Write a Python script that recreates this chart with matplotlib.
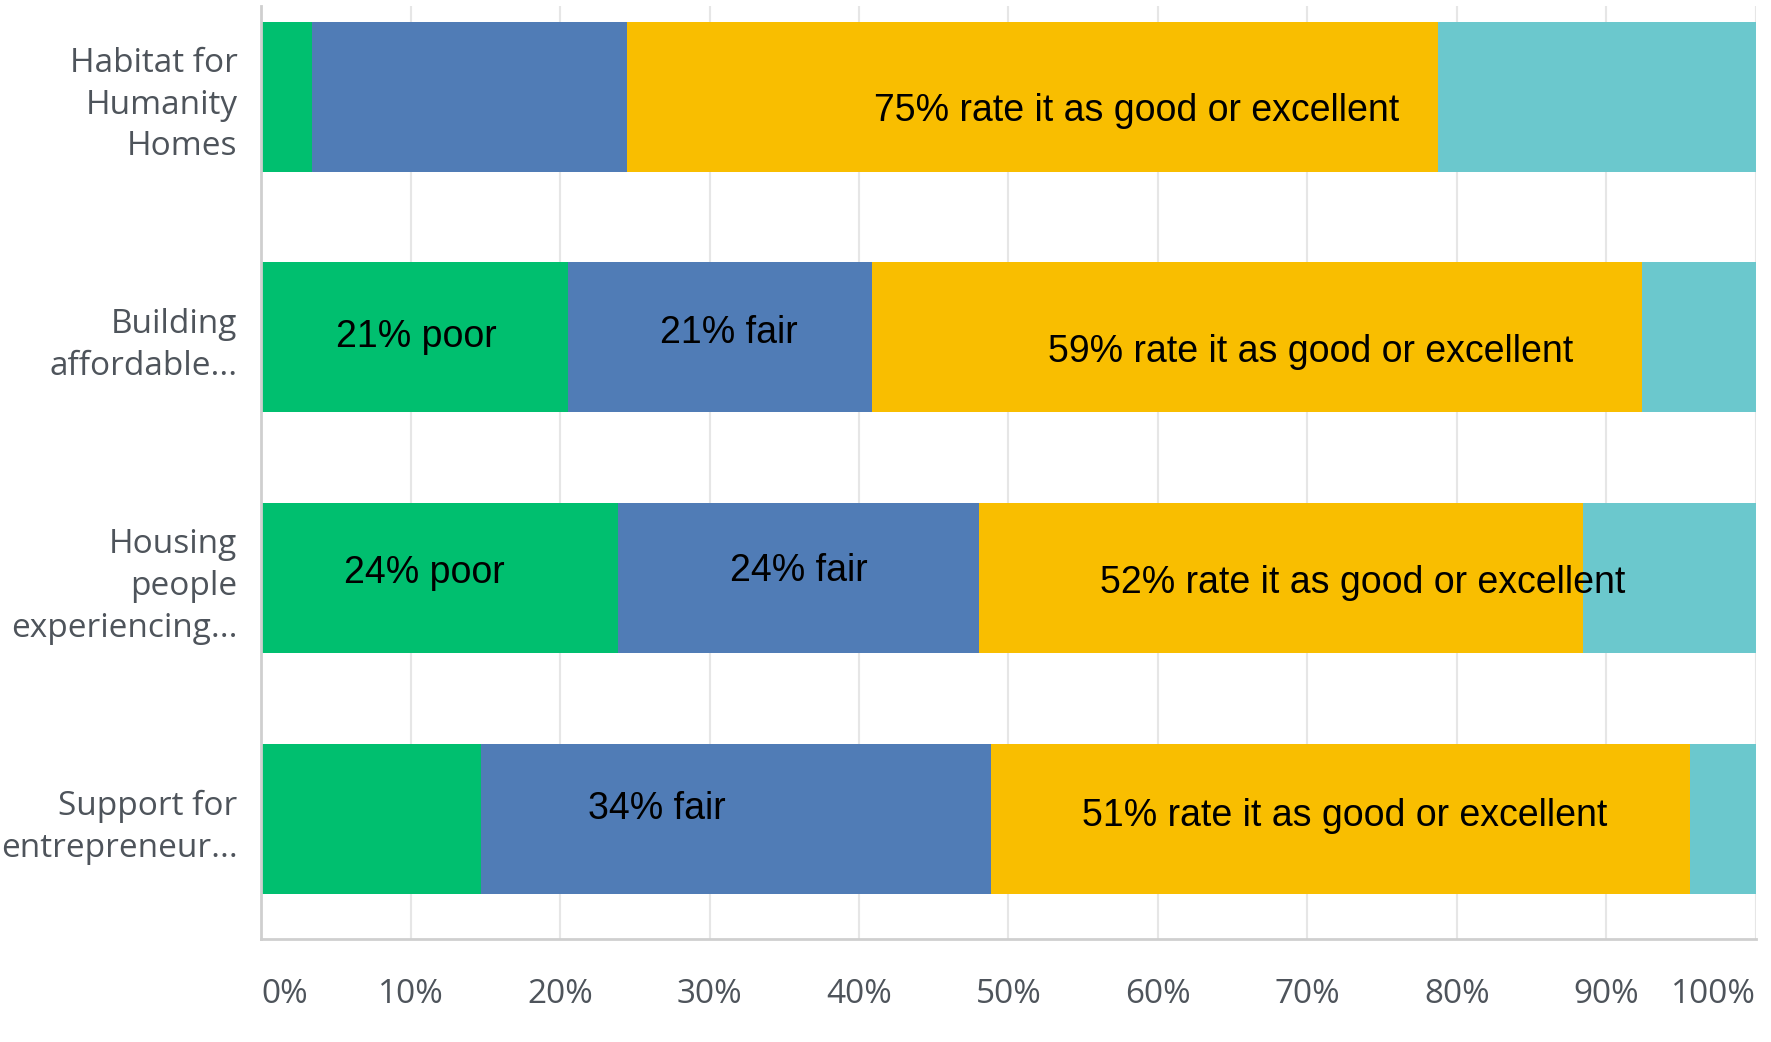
import numpy as np
import matplotlib
matplotlib.use('Agg')
import matplotlib.pyplot as plt

# survey rows, top to bottom
categories = ['Habitat for\nHumanity\nHomes', 'Building\naffordable...',
              'Housing\npeople\nexperiencing...', 'Support for\nentrepreneur...']

# share of answers (%) per rating bucket
poor = [3.4, 20.5, 23.9, 14.7]
fair = [21.1, 20.4, 24.1, 34.1]
good = [54.2, 51.5, 40.4, 46.8]
excellent = [21.3, 7.6, 11.6, 4.4]

colors = ['#00BF6F', '#507CB6', '#F9BE00', '#6BC8CD']

# overlay callouts: (row, x in %, y offset, text)
notes = [
    (0, 58.6, 0.06, '75% rate it as good or excellent'),
    (1, 10.4, 0.0, '21% poor'),
    (1, 31.3, -0.02, '21% fair'),
    (1, 70.2, 0.06, '59% rate it as good or excellent'),
    (2, 10.9, -0.02, '24% poor'),
    (2, 36.0, -0.03, '24% fair'),
    (2, 73.7, 0.02, '52% rate it as good or excellent'),
    (3, 26.5, -0.04, '34% fair'),
    (3, 72.5, -0.01, '51% rate it as good or excellent'),
]

xticks = np.arange(0, 101, 10)
xticklabels = [str(t) + '%' for t in xticks]

fig = plt.figure(figsize=(17.71, 10.42), dpi=100)
ax = fig.add_axes([0.1474, 0.0988, 0.9915 - 0.1474, 0.994 - 0.0988])

ind = np.arange(len(categories))
left = np.zeros(len(categories))
for vals, col in zip([poor, fair, good, excellent], colors):
    ax.barh(ind, vals, 0.623, left=left, color=col, edgecolor='none', zorder=2)
    left += np.array(vals)

for row, x, dy, txt in notes:
    ax.text(x, row + dy, txt, ha='center', va='center', fontsize=27,
            family='Liberation Sans', color='black', zorder=3)

ax.set_xlim(0, 100)
ax.set_ylim(3.5, -0.376)

ax.set_xticks(xticks)
ax.set_xticklabels(xticklabels)
ax.set_yticks(ind)
ax.set_yticklabels(categories, linespacing=1.35)

tick_col = '#4e545b'
for lab in ax.get_xticklabels() + ax.get_yticklabels():
    lab.set_family('Open Sans')
    lab.set_fontsize(24)
    lab.set_color(tick_col)
xl = ax.get_xticklabels()
xl[0].set_ha('left')
xl[-1].set_ha('right')

ax.tick_params(axis='x', length=0, pad=28)
ax.tick_params(axis='y', length=0, pad=17)

ax.grid(axis='x', color='#e6e6e6', linewidth=1.5, zorder=0)
for s in ['top', 'right']:
    ax.spines[s].set_visible(False)
for s in ['left', 'bottom']:
    ax.spines[s].set_color('#cfcfcf')
    ax.spines[s].set_linewidth(2)

fig.savefig('out.png', dpi=100, facecolor='white')
